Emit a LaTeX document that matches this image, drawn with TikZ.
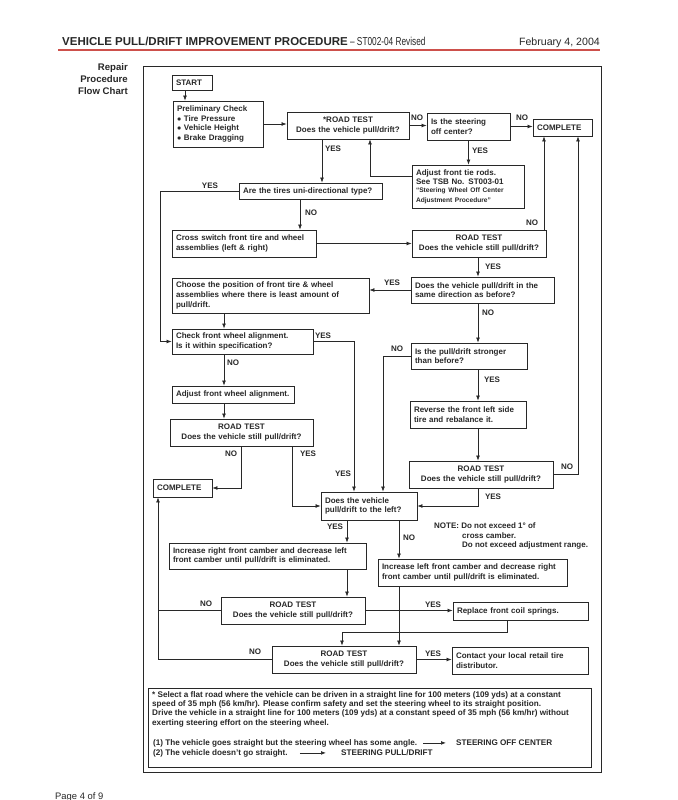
\documentclass[tikz,border=0pt]{standalone}
\usepackage{fontspec}
\setmainfont{Liberation Sans}
\usetikzlibrary{arrows.meta}
\definecolor{rulered}{RGB}{205,80,75}
\definecolor{ink}{RGB}{40,40,40}

\begin{document}
\begin{tikzpicture}[x=1pt,y=-1pt,
	box/.style={draw=ink, line width=0.8pt, inner sep=4pt, align=left, text=ink,
		font=\fontsize{8}{9.6}\selectfont\bfseries},
	test/.style={box, align=center},
	lbl/.style={inner sep=1pt, text=ink, font=\fontsize{8}{9.6}\selectfont\bfseries},
	foot/.style={lbl, font=\fontsize{8.15}{9.3}\selectfont\bfseries},
	arr/.style={draw=ink, line width=0.7pt, -{Latex[length=5pt,width=3.8pt]}},
	wire/.style={draw=ink, line width=0.7pt}]
	\fill[white] (0,0) rectangle (677,800);
	\useasboundingbox (0,0) rectangle (677,800);

	% header
	\node[anchor=base west, inner sep=0, text=ink] (title) at (62,46)
		{\fontsize{11.5}{13}\selectfont\textbf{VEHICLE PULL/DRIFT IMPROVEMENT PROCEDURE}\scalebox{0.72}[1]{ -- ST002-04 Revised}};
	\node[anchor=base east, inner sep=0, text=ink, font=\fontsize{10.6}{13}\selectfont] (date) at (600,46) {February 4, 2004};
	\draw[rulered, line width=1.3pt] (58,50) -- (600,50);
	\node[anchor=north east, inner sep=0, align=right, text=ink, font=\fontsize{9.6}{12}\selectfont\bfseries] (side) at (128,63)
		{Repair\\Procedure\\Flow Chart};
	\node[anchor=base west, inner sep=0, text=ink, font=\fontsize{9.4}{11}\selectfont] (page) at (55,799) {Page 4 of 9};

	\draw[ink, line width=0.9pt] (143,66) rectangle (601,772);

	% boxes
	\node[box, text width=32pt, minimum height=15pt] (start) at (192,82.5) {START};
	\node[box, text width=82pt, minimum height=46pt] (prelim) at (218,124)
		{Preliminary Check\\$\bullet$ Tire Pressure\\$\bullet$ Vehicle Height\\$\bullet$ Brake Dragging};
	\node[test, text width=114pt, minimum height=27pt] (rt1) at (348,125.5) {*ROAD TEST\\Does the vehicle pull/drift?};
	\node[box, text width=75pt, minimum height=27pt] (steer) at (468.5,126.5) {Is the steering\\off center?};
	\node[box, text width=51pt, minimum height=17pt] (done1) at (562.5,127.5) {COMPLETE};
	\node[box, text width=104pt, minimum height=43pt] (tierod) at (468,186.5)
		{Adjust front tie rods.\\See TSB No. ST003-01\\[-1pt]{\fontsize{6.6}{8.5}\selectfont ``Steering Wheel Off Center\\Adjustment Procedure''}};
	\node[box, text width=135pt, minimum height=16pt] (uni) at (310.5,191) {Are the tires uni-directional type?};
	\node[box, text width=136pt, minimum height=27pt] (cross) at (244,243.5) {Cross switch front tire and wheel\\assemblies (left \& right)};
	\node[test, text width=126pt, minimum height=27pt] (rt2) at (479,243.5) {ROAD TEST\\Does the vehicle still pull/drift?};
	\node[box, text width=135pt, minimum height=26pt] (same) at (482.5,290) {Does the vehicle pull/drift in the\\same direction as before?};
	\node[box, text width=189pt, minimum height=35pt] (choose) at (270.5,295.5)
		{Choose the position of front tire \& wheel\\assemblies where there is least amount of\\pull/drift.};
	\node[box, text width=133pt, minimum height=25pt] (check) at (242.5,341.5) {Check front wheel alignment.\\Is it within specification?};
	\node[box, text width=108pt, minimum height=26pt] (stronger) at (469,356) {Is the pull/drift stronger\\than before?};
	\node[box, text width=114pt, minimum height=17pt] (adjal) at (233,394.5) {Adjust front wheel alignment.};
	\node[box, text width=108pt, minimum height=27pt] (reverse) at (468,414.5) {Reverse the front left side\\tire and rebalance it.};
	\node[test, text width=135pt, minimum height=27pt] (rt3) at (241.5,432.5) {ROAD TEST\\Does the vehicle still pull/drift?};
	\node[test, text width=136pt, minimum height=27pt] (rt4) at (481,474.5) {ROAD TEST\\Does the vehicle still pull/drift?};
	\node[box, text width=51pt, minimum height=18pt] (done2) at (182.5,488) {COMPLETE};
	\node[box, text width=88pt, minimum height=28pt] (left) at (369,506) {Does the vehicle\\pull/drift to the left?};
	\node[box, text width=189pt, minimum height=26pt] (incr) at (267.5,556)
		{Increase right front camber and decrease left\\front camber until pull/drift is eliminated.};
	\node[box, text width=181pt, minimum height=27pt] (incl) at (472.5,572.5)
		{Increase left front camber and decrease right\\front camber until pull/drift is eliminated.};
	\node[test, text width=136pt, minimum height=27pt] (rt5) at (293,610.5) {ROAD TEST\\Does the vehicle still pull/drift?};
	\node[box, text width=127pt, minimum height=18pt] (replace) at (520.5,611) {Replace front coil springs.};
	\node[test, text width=136pt, minimum height=27pt] (rt6) at (344,659.5) {ROAD TEST\\Does the vehicle still pull/drift?};
	\node[box, text width=128pt, minimum height=27pt] (contact) at (520,660.5) {Contact your local retail tire\\distributor.};

	% note
	\node[lbl, anchor=base west] (note) at (433,528) {NOTE: Do not exceed 1° of};
	\node[lbl, anchor=north west, align=left] (note2) at (461,531) {cross camber.\\Do not exceed adjustment range.};

	% columns for the connectors
	\coordinate (c1) at (185,0);
	\coordinate (c2) at (370,176);
	\coordinate (c3) at (322,0);
	\coordinate (c4) at (160,0);
	\coordinate (c5) at (300,0);
	\coordinate (c6) at (544,0);
	\coordinate (c7) at (478,0);
	\coordinate (c8) at (224,0);
	\coordinate (c9) at (354,0);
	\coordinate (c10) at (241,0);
	\coordinate (c11) at (292,0);
	\coordinate (c12) at (383,0);
	\coordinate (c13) at (578,0);
	\coordinate (c14) at (347,0);
	\coordinate (c15) at (399,0);
	\coordinate (c16) at (158,0);
	\coordinate (c17) at (507,632);
	\coordinate (c18) at (342,632);

	\draw[arr] (start.south -| c1) -- (prelim.north -| c1);
	\draw[arr] (prelim.east) -- (prelim.east -| rt1.west);
	\draw[arr] (rt1.east) -- (rt1.east -| steer.west);
	\draw[arr] (steer.east) -- (steer.east -| done1.west);
	\draw[arr] (steer.south) -- (steer.south |- tierod.north);
	\draw[arr] (tierod.west |- c2) -- (c2) -- (rt1.south -| c2);
	\draw[arr] (rt1.south -| c3) -- (uni.north -| c3);
	\draw[arr] (uni.west) -| (c4 |- check.west) -- (check.west);
	\draw[arr] (uni.south -| c5) -- (cross.north -| c5);
	\draw[arr] (cross.east) -- (rt2.west);
	\draw[arr] (rt2.north -| c6) -- (done1.south -| c6);
	\draw[arr] (rt2.south -| c7) -- (same.north -| c7);
	\draw[arr] (same.west) -- (same.west -| choose.east);
	\draw[arr] (same.south -| c7) -- (stronger.north -| c7);
	\draw[arr] (choose.south -| c8) -- (check.north -| c8);
	\draw[arr] (check.east) -| (left.north -| c9);
	\draw[arr] (check.south -| c8) -- (adjal.north -| c8);
	\draw[arr] (adjal.south -| c8) -- (rt3.north -| c8);
	\draw[arr] (rt3.south -| c10) |- (done2.east);
	\draw[arr] (rt3.south -| c11) |- (left.west);
	\draw[arr] (stronger.west) -| (left.north -| c12);
	\draw[arr] (stronger.south -| c7) -- (reverse.north -| c7);
	\draw[arr] (reverse.south -| c7) -- (rt4.north -| c7);
	\draw[arr] (rt4.east) -| (done1.south -| c13);
	\draw[arr] (rt4.south -| c7) |- (left.east);
	\draw[arr] (left.south -| c14) -- (incr.north -| c14);
	\draw[arr] (left.south -| c15) -- (incl.north -| c15);
	\draw[arr] (incr.south -| c14) -- (rt5.north -| c14);
	\draw[wire] (rt5.west) -- (rt5.west -| c16);
	\draw[arr] (rt6.west) -| (done2.south -| c16);
	\draw[arr] (rt5.east) -- (rt5.east -| replace.west);
	\draw[arr] (replace.south -| c17) -- (c17) -- (c18) -- (rt6.north -| c18);
	\draw[arr] (incl.south -| c15) -- (rt6.north -| c15);
	\draw[arr] (rt6.east) -- (rt6.east -| contact.west);

	% yes / no
	\node[lbl] (n1) at (417,118) {NO};
	\node[lbl] (n2) at (522,118) {NO};
	\node[lbl] (y1) at (480,151) {YES};
	\node[lbl] (y2) at (333,149) {YES};
	\node[lbl] (y3) at (210,186) {YES};
	\node[lbl] (n3) at (311,213) {NO};
	\node[lbl] (n4) at (532,223) {NO};
	\node[lbl] (y4) at (493,267) {YES};
	\node[lbl] (y5) at (392,283) {YES};
	\node[lbl] (n5) at (488,313) {NO};
	\node[lbl] (y6) at (323,336) {YES};
	\node[lbl] (n6) at (233,363) {NO};
	\node[lbl] (n7) at (397,349) {NO};
	\node[lbl] (y7) at (492,380) {YES};
	\node[lbl] (n8) at (567,467) {NO};
	\node[lbl] (n9) at (231,454) {NO};
	\node[lbl] (y8) at (308,454) {YES};
	\node[lbl] (y9) at (343,474) {YES};
	\node[lbl] (y10) at (493,497) {YES};
	\node[lbl] (y11) at (335,527) {YES};
	\node[lbl] (n10) at (409,538) {NO};
	\node[lbl] (n11) at (206,604) {NO};
	\node[lbl] (y12) at (433,605) {YES};
	\node[lbl] (n12) at (255,652) {NO};
	\node[lbl] (y13) at (433,654) {YES};

	% footnote
	\draw[ink, line width=0.8pt] (148,688) rectangle (591,767);
	\node[foot, anchor=north west, align=left] (fn) at (151,690)
		{* Select a flat road where the vehicle can be driven in a straight line for 100 meters (109 yds) at a constant\\
		speed of 35 mph (56 km/hr). Please confirm safety and set the steering wheel to its straight position.\\
		Drive the vehicle in a straight line for 100 meters (109 yds) at a constant speed of 35 mph (56 km/hr) without\\
		exerting steering effort on the steering wheel.};
	\node[foot, anchor=base west] (fn1) at (152,745)
		{(1) The vehicle goes straight but the steering wheel has some angle.};
	\node[foot, anchor=base west] (fn2) at (152,755)
		{(2) The vehicle doesn't go straight.};
	\node[foot, anchor=base west] (off) at (455,745) {STEERING OFF CENTER};
	\node[foot, anchor=base west] (pull) at (340,755) {STEERING PULL/DRIFT};
	\draw[arr, shorten <=5pt, shorten >=9pt] (fn1.east) -- (fn1.east -| off.west);
	\draw[arr, shorten <=11pt, shorten >=14pt] (fn2.east) -- (fn2.east -| pull.west);
\end{tikzpicture}
\end{document}
